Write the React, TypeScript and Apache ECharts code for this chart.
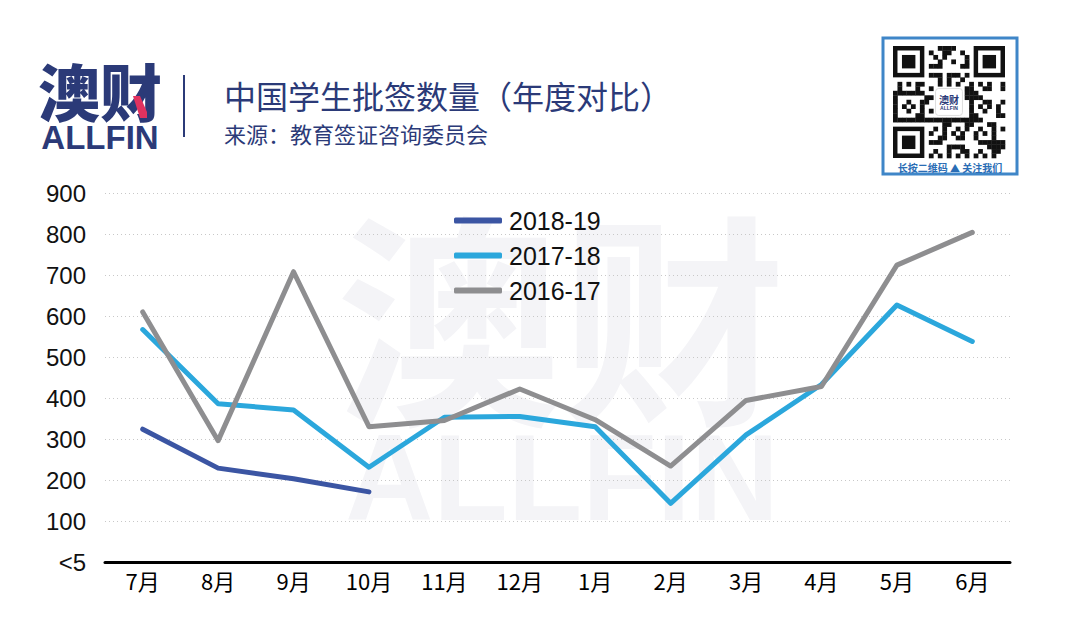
import React, { useEffect, useRef } from "react";
import * as echarts from "echarts";

const months = ["7月", "8月", "9月", "10月", "11月", "12月", "1月", "2月", "3月", "4月", "5月", "6月"];
const yTicks = [0, 100, 200, 300, 400, 500, 600, 700, 800, 900];
const s2018_19 = [324, 229, 203, 171, null, null, null, null, null, null, null, null];
const s2017_18 = [567, 386, 371, 231, 353, 355, 330, 143, 310, 433, 627, 538];
const s2016_17 = [610, 296, 708, 330, 345, 422, 347, 234, 394, 428, 724, 804];
const seriesNames = ["2018-19", "2017-18", "2016-17"];
const seriesColors = ["#3b55a3", "#2ba7dc", "#8e8e90"];

const NAVY = "#2b3a78";
const FONT = "'Liberation Sans', 'Noto Sans CJK SC', Arial, sans-serif";
const CJK = "'Noto Sans CJK SC', 'Liberation Sans', sans-serif";

function qrElements(x0: number, y0: number, size: number) {
  const n = 25;
  const m = size / n;
  const els: any[] = [];
  const finder = (cx: number, cy: number) => {
    els.push({ type: "rect", shape: { x: x0 + cx * m, y: y0 + cy * m, width: 7 * m, height: 7 * m }, style: { fill: "#111" } });
    els.push({ type: "rect", shape: { x: x0 + (cx + 1) * m, y: y0 + (cy + 1) * m, width: 5 * m, height: 5 * m }, style: { fill: "#fff" } });
    els.push({ type: "rect", shape: { x: x0 + (cx + 2) * m, y: y0 + (cy + 2) * m, width: 3 * m, height: 3 * m }, style: { fill: "#111" } });
  };
  const inFinder = (i: number, j: number) =>
    (i < 8 && j < 8) || (i >= n - 8 && j < 8) || (i < 8 && j >= n - 8);
  for (let j = 0; j < n; j++) {
    for (let i = 0; i < n; i++) {
      if (inFinder(i, j)) continue;
      if (i >= 9 && i <= 15 && j >= 9 && j <= 15) continue;
      const h = (i * 31 + j * 17 + ((i * j) % 7) * 5 + ((i + 3) * (j + 5)) % 11) % 5;
      if (h < 2 || ((i === 6 || j === 6) && (i + j) % 2 === 0)) {
        els.push({ type: "rect", shape: { x: x0 + i * m, y: y0 + j * m, width: m + 0.3, height: m + 0.3 }, style: { fill: "#111" } });
      }
    }
  }
  finder(0, 0);
  finder(n - 7, 0);
  finder(0, n - 7);
  els.push({ type: "rect", shape: { x: x0 + 9.5 * m, y: y0 + 9.5 * m, width: 6 * m, height: 6 * m, r: 3 }, style: { fill: "#fff", stroke: "#ddd" } });
  els.push({ type: "text", x: x0 + 12.5 * m, y: y0 + 11.9 * m, style: { text: "澳财", font: `bold 10px ${CJK}`, fill: NAVY, align: "center", verticalAlign: "middle" } });
  els.push({ type: "text", x: x0 + 12.5 * m, y: y0 + 13.9 * m, style: { text: "ALLFIN", font: `bold 5px ${FONT}`, fill: NAVY, align: "center", verticalAlign: "middle" } });
  return els;
}

export default function App() {
  const ref = useRef<HTMLDivElement>(null);
  useEffect(() => {
    if (!ref.current) return;
    const chart = echarts.init(ref.current, null, { renderer: "svg" });
    const dataSets = [s2018_19, s2017_18, s2016_17];
    const graphics: any[] = [
      // watermark
      { type: "text", z: -10, x: 561, y: 310, style: { text: "澳财", font: `bold 225px ${CJK}`, fill: "#f4f4f7", align: "center", verticalAlign: "middle" } },
      { type: "text", z: -10, x: 562, y: 478, style: { text: "ALLFIN", font: `bold 122px ${FONT}`, fill: "#f4f4f7", align: "center", verticalAlign: "middle" } },
      // logo
      { type: "text", x: 100, y: 90, style: { text: "澳财", font: `900 62px ${CJK}`, fill: NAVY, align: "center", verticalAlign: "middle" } },
      { type: "polygon", shape: { points: [[133, 96], [140, 96], [147, 112], [147, 118], [140, 118]] }, style: { fill: "#e0325f" } },
      { type: "text", x: 100, y: 137, style: { text: "ALLFIN", font: `bold 33px ${FONT}`, fill: NAVY, align: "center", verticalAlign: "middle" } },
      { type: "rect", shape: { x: 183, y: 75, width: 2, height: 62 }, style: { fill: NAVY } },
      // titles
      { type: "text", x: 224, y: 95, style: { text: "中国学生批签数量（年度对比）", font: `32px ${CJK}`, fill: NAVY, verticalAlign: "middle" } },
      { type: "text", x: 224, y: 133, style: { text: "来源：教育签证咨询委员会", font: `22px ${CJK}`, fill: NAVY, verticalAlign: "middle" } },
      // QR box
      { type: "rect", shape: { x: 883, y: 38, width: 134, height: 136 }, style: { fill: "#fff", stroke: "#3f86c8", lineWidth: 3 } },
      ...qrElements(893, 46, 112),
      { type: "text", x: 950, y: 167, style: { text: "长按二维码 ▲ 关注我们", font: `bold 10px ${CJK}`, fill: "#2a6db5", align: "center", verticalAlign: "middle" } },
    ];
    chart.setOption({
      animation: false,
      backgroundColor: "#ffffff",
      grid: { left: 105, right: 57, top: 193, bottom: 68 },
      legend: {
        orient: "vertical",
        left: 449,
        top: 203,
        itemWidth: 48,
        itemHeight: 6,
        itemGap: 10,
        icon: "roundRect",
        data: seriesNames,
        textStyle: { fontSize: 25, color: "#111", fontFamily: FONT, padding: [0, 0, 0, 2] },
      },
      xAxis: {
        type: "category",
        data: months,
        boundaryGap: true,
        axisLine: { lineStyle: { color: "#000", width: 3 } },
        axisTick: { show: false },
        axisLabel: { color: "#000", fontSize: 22, fontFamily: CJK, margin: 7 },
        splitLine: { show: false },
      },
      yAxis: {
        type: "value",
        min: yTicks[0],
        max: yTicks[yTicks.length - 1],
        interval: 100,
        axisLine: { show: false },
        axisTick: { show: false },
        axisLabel: {
          color: "#111",
          fontSize: 24,
          fontFamily: FONT,
          margin: 19,
          formatter: (v: number) => (v === 0 ? "<5" : String(v)),
        },
        splitLine: { lineStyle: { color: "#c8c8c8", type: [1, 3], width: 1 } },
      },
      graphic: { elements: graphics },
      series: seriesNames.map((name, i) => ({
        name,
        type: "line",
        data: dataSets[i],
        symbol: "none",
        connectNulls: false,
        color: seriesColors[i],
        lineStyle: { width: 5, color: seriesColors[i], cap: "round", join: "round" },
      })),
    });
    return () => chart.dispose();
  }, []);
  return <div ref={ref} style={{ position: "fixed", left: 0, top: 0, width: 1067, height: 630 }} />;
}
